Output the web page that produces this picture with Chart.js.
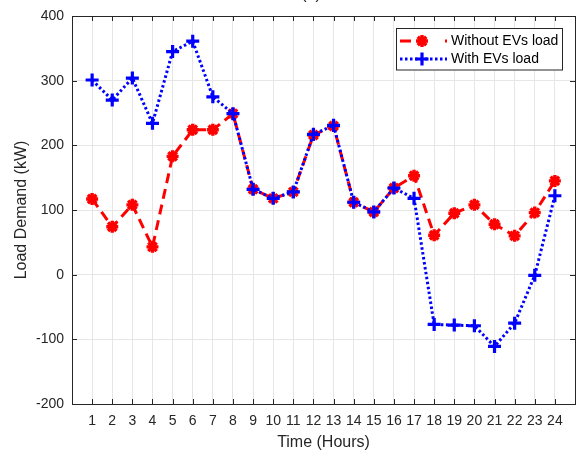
<!DOCTYPE html>
<html>
<head>
<meta charset="utf-8">
<script src="https://cdn.jsdelivr.net/npm/chart.js@4"></script>
<style>
  html, body { margin: 0; padding: 0; background: #fff; }
  canvas { display: block; }
</style>
</head>
<body>
<canvas id="load" width="579" height="452"></canvas>
<script>
// ─── DATA ────────────────────────────────────────────────
const hours      = [1, 2, 3, 4, 5, 6, 7, 8, 9, 10, 11, 12, 13, 14, 15, 16, 17, 18, 19, 20, 21, 22, 23, 24];
const withoutEVs = [117, 74, 108, 43, 183, 224, 224, 249, 132, 118, 128, 216, 230, 112, 97, 134, 153, 61, 95, 108, 78, 60, 96, 145];
const withEVs    = [301, 270, 304, 234, 345, 361, 275, 249, 132, 118, 128, 217, 231, 112, 97, 134, 118, -77, -78, -79, -111, -75, -1, 122];
const yTicks     = [-200, -100, 0, 100, 200, 300, 400];

const FONT = "'Liberation Sans', Arial, Helvetica, sans-serif";
const INK  = '#262626';
const RED  = '#ff0000';
const BLUE = '#0000ff';

const toPoints = vals => hours.map((h, i) => ({ x: h, y: vals[i] }));

// ─── MARKERS ─────────────────────────────────────────────
function drawMarker(ctx, style, x, y, r, color, w) {
  ctx.save();
  ctx.strokeStyle = color;
  ctx.lineWidth = w;
  ctx.setLineDash([]);
  ctx.beginPath();
  ctx.moveTo(x - r, y); ctx.lineTo(x + r, y);
  ctx.moveTo(x, y - r); ctx.lineTo(x, y + r);
  if (style === 'star') {
    const d = r * Math.SQRT1_2;
    ctx.moveTo(x - d, y - d); ctx.lineTo(x + d, y + d);
    ctx.moveTo(x - d, y + d); ctx.lineTo(x + d, y - d);
  }
  ctx.stroke();
  ctx.restore();
}

// ─── FRAME, INNER TICKS, LEGEND, TITLE ───────────────────
const matlabFrame = {
  id: 'matlabFrame',
  afterDraw(chart) {
    const { ctx, chartArea: a, scales } = chart;
    ctx.save();
    ctx.strokeStyle = INK;
    ctx.lineWidth = 1;
    ctx.setLineDash([]);
    ctx.beginPath();
    scales.x.ticks.forEach(t => {
      const px = Math.round(scales.x.getPixelForValue(t.value)) + 0.5;
      ctx.moveTo(px, a.bottom); ctx.lineTo(px, a.bottom - 5);
      ctx.moveTo(px, a.top);    ctx.lineTo(px, a.top + 5);
    });
    scales.y.ticks.forEach(t => {
      const py = Math.round(scales.y.getPixelForValue(t.value)) + 0.5;
      ctx.moveTo(a.left, py);  ctx.lineTo(a.left + 5, py);
      ctx.moveTo(a.right, py); ctx.lineTo(a.right - 5, py);
    });
    ctx.stroke();
    ctx.strokeRect(Math.round(a.left) + 0.5, Math.round(a.top) + 0.5,
                   Math.round(a.right - a.left), Math.round(a.bottom - a.top));

    // legend box
    const lx = 396.5, ly = 28.5, lw = 166, lh = 41.5;
    ctx.fillStyle = '#fff';
    ctx.fillRect(lx, ly, lw, lh);
    ctx.strokeRect(lx, ly, lw, lh);

    const rows = [
      { label: 'Without EVs load', color: RED,  dash: [11, 34, 2, 100], style: 'star',  r: 6,   w: 3.4, y: 41 },
      { label: 'With EVs load',    color: BLUE, dash: [2.5, 2.5],       style: 'cross', r: 6.5, w: 3.2, y: 59 }
    ];
    rows.forEach(row => {
      ctx.save();
      ctx.strokeStyle = row.color;
      ctx.lineWidth = 3;
      ctx.setLineDash(row.dash);
      ctx.beginPath();
      ctx.moveTo(400, row.y); ctx.lineTo(447, row.y);
      ctx.stroke();
      ctx.restore();
      drawMarker(ctx, row.style, 422, row.y, row.r, row.color, row.w);
      ctx.fillStyle = '#000';
      ctx.font = '14px ' + FONT;
      ctx.textAlign = 'left';
      ctx.textBaseline = 'middle';
      ctx.fillText(row.label, 451, row.y);
    });

    // title, clipped by the top edge
    ctx.fillStyle = INK;
    ctx.font = '16px ' + FONT;
    ctx.textAlign = 'center';
    ctx.textBaseline = 'alphabetic';
    ctx.fillText('(a)', 311, -1);
    ctx.restore();
  }
};

// ─── CHART ───────────────────────────────────────────────
new Chart(document.getElementById('load').getContext('2d'), {
  type: 'line',
  data: {
    datasets: [
      {
        label: 'With EVs load',
        data: toPoints(withEVs),
        order: 0,
        borderColor: BLUE,
        borderWidth: 3,
        borderDash: [2.5, 2.5],
        borderCapStyle: 'butt',
        fill: false,
        tension: 0,
        pointStyle: 'cross',
        pointRadius: 6.5,
        pointBorderWidth: 3.2,
        pointBorderColor: BLUE,
        pointBackgroundColor: BLUE
      },
      {
        label: 'Without EVs load',
        data: toPoints(withoutEVs),
        order: 1,
        borderColor: RED,
        borderWidth: 3,
        borderDash: [10, 6],
        borderCapStyle: 'butt',
        fill: false,
        tension: 0,
        pointStyle: 'star',
        pointRadius: 6,
        pointBorderWidth: 3.4,
        pointBorderColor: RED,
        pointBackgroundColor: RED
      }
    ]
  },
  options: {
    responsive: false,
    animation: false,
    layout: { autoPadding: false, padding: { top: 16, right: 4, left: 0, bottom: 0 } },
    plugins: {
      legend: { display: false },
      tooltip: { enabled: false }
    },
    scales: {
      x: {
        type: 'linear',
        min: 0,
        max: 25,
        afterBuildTicks: s => { s.ticks = hours.map(v => ({ value: v })); },
        afterFit: s => { s.height = 48; s.paddingLeft = 0; s.paddingRight = 0; },
        grid: { color: '#e6e6e6', drawTicks: false },
        border: { display: false },
        ticks: {
          autoSkip: false,
          maxRotation: 0,
          padding: 9,
          color: INK,
          font: { family: FONT, size: 14 }
        },
        title: {
          display: true,
          text: 'Time (Hours)',
          color: INK,
          font: { family: FONT, size: 16 },
          padding: { top: 0, bottom: 0 }
        }
      },
      y: {
        min: -200,
        max: 400,
        afterBuildTicks: s => { s.ticks = yTicks.map(v => ({ value: v })); },
        afterFit: s => { s.width = 72; s.paddingTop = 0; s.paddingBottom = 0; },
        grid: { color: '#e6e6e6', drawTicks: false },
        border: { display: false },
        ticks: {
          padding: 8,
          color: INK,
          font: { family: FONT, size: 14 }
        },
        title: {
          display: true,
          text: 'Load Demand (kW)',
          color: INK,
          font: { family: FONT, size: 16 },
          padding: { top: 12, bottom: 0 }
        }
      }
    }
  },
  plugins: [matlabFrame]
});
</script>
</body>
</html>
